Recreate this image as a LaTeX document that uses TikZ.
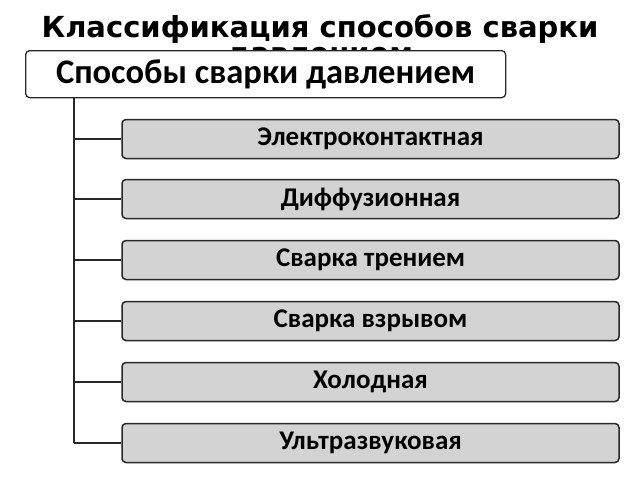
\documentclass[tikz,border=0pt]{standalone}
\usepackage{fontspec}
\newfontfamily\titlefont{DejaVu Sans}
\newfontfamily\boxfont{Carlito}
\definecolor{boxgray}{RGB}{211,211,211}
\definecolor{edge}{RGB}{40,40,40}
\begin{document}
\begin{tikzpicture}[x=1pt,y=-1pt,
  topbox/.style={draw=edge,line width=1.3pt,fill=white,rounded corners=4pt,
    minimum width=480pt,minimum height=47pt,inner sep=0pt,anchor=north west,
    font=\boxfont\bfseries\fontsize{34.5}{36}\selectfont},
  itembox/.style={draw=edge,line width=1.5pt,fill=boxgray,rounded corners=4pt,
    minimum width=497pt,minimum height=39pt,inner sep=0pt,
    font=\boxfont\bfseries\fontsize{27}{30}\selectfont},
  link/.style={draw=edge,line width=1.5pt}]
\useasboundingbox (0,0) rectangle (640,480);
\node[font=\titlefont\bfseries\fontsize{29}{26}\selectfont,align=center,anchor=base] (title) at (320,63)
  {Классификация способов сварки\\давлением};
\node[topbox] (top) at (25,50) {Способы сварки давлением};
\coordinate (trunk) at (74,97);
\foreach \t/\y [count=\i] in {Электроконтактная/139,Диффузионная/199,Сварка трением/260,Сварка взрывом/321,Холодная/382,Ультразвуковая/443}{
  \node[itembox] (b\i) at (370.5,\y) {\t};
  \coordinate (j\i) at (74,\y);
  \draw[link] (j\i) -- (b\i.west);
}
\draw[link] (trunk) -- (j6);
\end{tikzpicture}
\end{document}
